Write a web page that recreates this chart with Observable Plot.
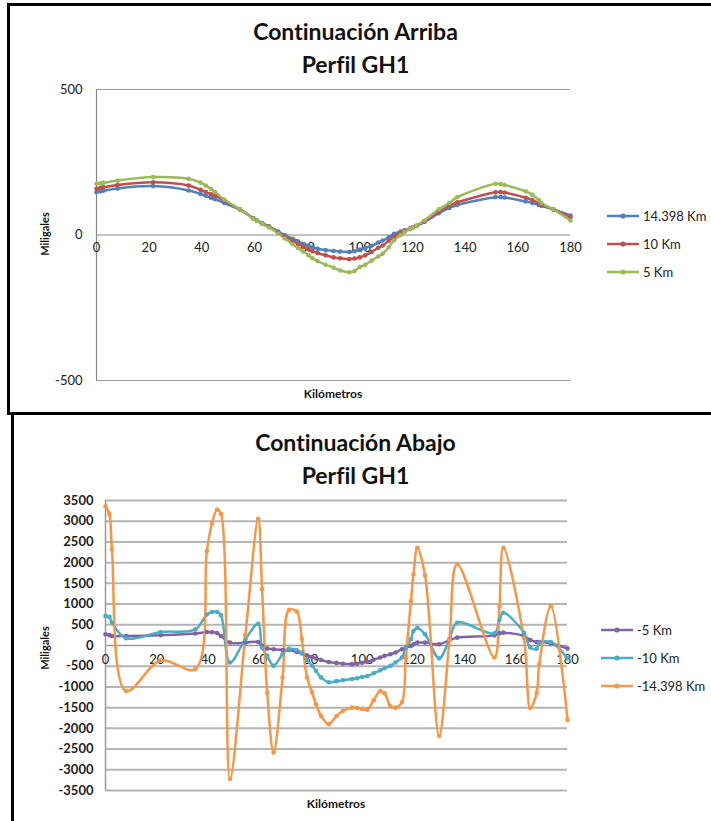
<!DOCTYPE html>
<html>
<head>
<meta charset="utf-8">
<script src="https://cdn.jsdelivr.net/npm/d3@7"></script>
<script src="https://cdn.jsdelivr.net/npm/@observablehq/plot@0.6"></script>
<style>
  html, body { margin: 0; padding: 0; background: #fff; }
  #page { position: relative; width: 711px; height: 821px; overflow: hidden; font-family: Lato, "Open Sans", sans-serif; color: #222; font-variant-ligatures: none; }
  .frame { position: absolute; border: 3px solid #000; box-sizing: border-box; }
  .title { position: absolute; left: 0; width: 711px; text-align: center; font-weight: bold; font-size: 23px; line-height: 32px; color: #111; }
  .xlabel { position: absolute; font-weight: bold; font-size: 12px; color: #111; transform: translateX(-50%); }
  .ylabel { position: absolute; font-weight: bold; font-size: 11px; color: #111; transform: translate(-50%, -50%) rotate(-90deg); white-space: nowrap; }
  .plot { position: absolute; }
  .legend { position: absolute; font-size: 13px; color: #222; }
  .legend .item { display: flex; align-items: center; height: 28px; }
  .legend svg { margin-right: 3px; }
</style>
</head>
<body>
<div id="page">
  <div class="frame" style="left:7px; top:3px; width:720px; height:412px;"></div>
  <div class="frame" style="left:11px; top:412px; width:720px; height:420px;"></div>
  <div class="title" style="top:15px;">Continuación Arriba</div>
  <div class="title" style="top:48px;">Perfil GH1</div>
  <div class="title" style="top:426px;">Continuación Abajo</div>
  <div class="title" style="top:459px;">Perfil GH1</div>
  <div class="ylabel" style="left:44px; top:234px;">Miligales</div>
  <div class="xlabel" style="left:333px; top:386px;">Kilómetros</div>
  <div class="ylabel" style="left:44px; top:648px;">Miligales</div>
  <div class="xlabel" style="left:336px; top:796px;">Kilómetros</div>
  <div id="topPlot" class="plot" style="left:0; top:80px;"></div>
  <div id="bottomPlot" class="plot" style="left:0; top:490px;"></div>
  <div id="topLegend" class="legend" style="left:606px; top:202px;"></div>
  <div id="bottomLegend" class="legend" style="left:600px; top:616px;"></div>
</div>
<script>
// Shared profile stations (km)
const km = [0, 1.5, 2.5, 8, 21.5, 35, 39.5, 41.5, 43.5, 45, 48.5, 54.5, 59.5, 61, 63, 65.5, 69, 71.5, 74.5, 76.5, 78.5, 80.5, 82, 84, 87, 90, 92.5, 96, 98, 100, 102, 104.5, 107, 108.7, 111, 113, 115.5, 117, 119, 120, 121.5, 124.5, 130, 134, 137, 151.5, 153.5, 155, 163, 165.5, 168, 169, 173.5, 180];

// Continuación Arriba (upward continuation)
const arriba14398 = [147, 150, 152, 160, 168, 153, 141, 135, 128, 123, 110, 87, 58, 50, 40, 30, 12, 0, -13, -22, -30, -37, -42, -47, -52, -55, -57, -58, -56, -50, -45, -37, -26, -19, -8, 4, 12, 16, 22, 26, 32, 45, 75, 93, 103, 130, 130, 129, 115, 110, 103, 100, 88, 67];
const arriba10 = [159, 162, 164, 172, 181, 170, 155, 148, 140, 135, 118, 88, 57, 48, 38, 28, 8, -5, -20, -30, -40, -50, -56, -62, -70, -77, -80, -83, -81, -77, -70, -58, -44, -36, -20, -5, 8, 14, 21, 25, 31, 46, 80, 100, 112, 147, 148, 146, 128, 120, 110, 105, 88, 62];
const arriba5 = [176, 178, 179, 187, 199, 193, 180, 170, 158, 148, 122, 88, 56, 48, 38, 26, 5, -12, -32, -45, -57, -70, -80, -90, -102, -112, -122, -128, -124, -110, -102, -88, -74, -64, -42, -18, 0, 10, 20, 24, 32, 50, 88, 110, 130, 176, 175, 172, 150, 138, 120, 110, 88, 50];

// Continuación Abajo (downward continuation)
const abajo5 = [270, 250, 230, 230, 250, 290, 325, 320, 300, 230, 70, 70, 85, -10, -75, -90, -110, -110, -155, -190, -235, -275, -315, -350, -400, -420, -440, -450, -440, -415, -395, -340, -290, -250, -210, -170, -90, -50, -10, 30, 70, 70, 30, 130, 190, 245, 295, 310, 230, 130, 85, 85, 50, -70];
const abajo10 = [710, 690, 550, 175, 325, 390, 750, 810, 810, 730, -410, 150, 525, -50, -250, -490, -210, -80, -110, -175, -350, -490, -610, -770, -890, -860, -840, -810, -790, -760, -735, -670, -600, -550, -490, -410, -290, -50, 150, 350, 430, 270, -310, 150, 550, 295, 615, 790, 310, -50, -80, 65, 85, -310];
const abajo14398 = [3360, 3170, 2320, -1100, -360, -570, 2280, 2950, 3280, 3170, -3220, 250, 3060, 1360, -1140, -2580, -780, 860, 820, 160, -770, -1130, -1420, -1700, -1900, -1700, -1580, -1500, -1510, -1530, -1550, -1320, -1100, -1150, -1460, -1500, -1370, -300, 1070, 1720, 2360, 1690, -2180, 130, 1960, -290, 950, 2360, 190, -1510, -1140, -450, 950, -1800];

const topSeries = ["14.398 Km", "10 Km", "5 Km"];
const topColors = ["#4F81BD", "#C0504D", "#9BBB59"];
const bottomSeries = ["-5 Km", "-10 Km", "-14.398 Km"];
const bottomColors = ["#8064A2", "#4BACC6", "#F79646"];

const xTicks = [0, 20, 40, 60, 80, 100, 120, 140, 160, 180];
const yTicksTop = [-500, 0, 500];
const yTicksBottom = [-3500, -3000, -2500, -2000, -1500, -1000, -500, 0, 500, 1000, 1500, 2000, 2500, 3000, 3500];

const plain = d => String(d);

function table(names, arrays) {
  const rows = [];
  names.forEach((name, j) => km.forEach((k, i) => rows.push({km: k, value: arrays[j][i], serie: name})));
  return rows;
}

const topData = table(topSeries, [arriba14398, arriba10, arriba5]);
const bottomData = table(bottomSeries, [abajo5, abajo10, abajo14398]);

const topChart = Plot.plot({
  width: 600,
  height: 320,
  marginLeft: 96,
  marginRight: 30,
  marginTop: 9,
  marginBottom: 20,
  style: {fontFamily: "Lato, 'Open Sans', sans-serif", fontSize: "13px", color: "#222", background: "transparent"},
  x: {domain: [0, 180], axis: null},
  y: {domain: [-500, 500], axis: null},
  color: {domain: topSeries, range: topColors},
  marks: [
    Plot.ruleY([-500, 500], {stroke: "#9a9a9a", strokeWidth: 1.2}),
    Plot.ruleY([0], {stroke: "#888", strokeWidth: 1.2}),
    Plot.ruleX([0], {stroke: "#888", strokeWidth: 1.2}),
    Plot.axisY(yTicksTop, {tickSize: 0, tickPadding: 14, label: null, fontSize: 13, tickFormat: plain}),
    Plot.text(xTicks, {x: d => d, y: 0, dy: 13, text: plain, fontSize: 13, fill: "#222"}),
    Plot.line(topData, {x: "km", y: "value", z: "serie", stroke: "serie", strokeWidth: 2.5, curve: "catmull-rom"}),
    Plot.dot(topData, {x: "km", y: "value", fill: "serie", r: 2.3})
  ]
});
document.getElementById("topPlot").appendChild(topChart);

const bottomChart = Plot.plot({
  width: 600,
  height: 310,
  marginLeft: 105,
  marginRight: 33,
  marginTop: 10,
  marginBottom: 10,
  style: {fontFamily: "Lato, 'Open Sans', sans-serif", fontSize: "13px", color: "#222", background: "transparent"},
  x: {domain: [0, 180], axis: null},
  y: {domain: [-3500, 3500], axis: null},
  color: {domain: bottomSeries, range: bottomColors},
  marks: [
    Plot.ruleY(yTicksBottom.filter(d => d !== 0), {stroke: "#b5b5b5", strokeWidth: 2}),
    Plot.ruleY([0], {stroke: "#9a9a9a", strokeWidth: 1.5}),
    Plot.ruleX([0], {stroke: "#9a9a9a", strokeWidth: 1.5}),
    Plot.axisY(yTicksBottom, {tickSize: 0, tickPadding: 12, label: null, fontSize: 13, fontWeight: "bold", tickFormat: plain}),
    Plot.text(xTicks, {x: d => d, y: 0, dy: 14, text: plain, fontSize: 13, fill: "#222"}),
    Plot.line(bottomData, {x: "km", y: "value", z: "serie", stroke: "serie", strokeWidth: 2.5, curve: "catmull-rom"}),
    Plot.dot(bottomData, {x: "km", y: "value", fill: "serie", r: 2.3})
  ]
});
document.getElementById("bottomPlot").appendChild(bottomChart);

function legend(id, names, colors) {
  const el = document.getElementById(id);
  names.forEach((n, i) => {
    const item = document.createElement("div");
    item.className = "item";
    item.innerHTML = `<svg width="34" height="10"><line x1="1" y1="5" x2="33" y2="5" stroke="${colors[i]}" stroke-width="2.5"/><circle cx="17" cy="5" r="2.6" fill="${colors[i]}"/></svg><span>${n}</span>`;
    el.appendChild(item);
  });
}
legend("topLegend", topSeries, topColors);
legend("bottomLegend", bottomSeries, bottomColors);
</script>
</body>
</html>
